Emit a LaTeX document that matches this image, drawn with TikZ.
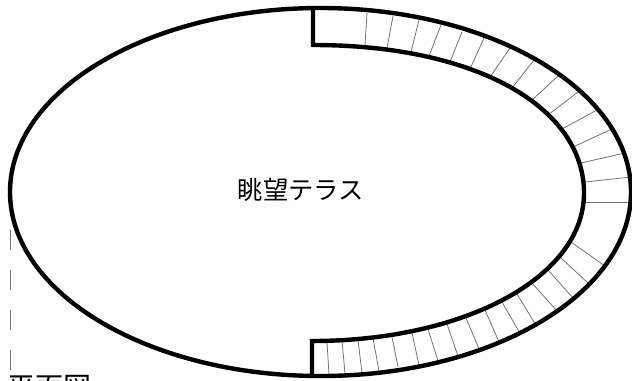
\documentclass[tikz,border=0pt]{standalone}
\usepackage{fontspec}
\newfontfamily\cjk{Noto Sans CJK JP}
\tikzstyle{wall} = [line width=3.3pt, line join=miter]
\tikzstyle{tread} = [line width=.6pt, black!55]
\tikzstyle{label} = [inner sep=0pt, font=\cjk]

\begin{document}
\begin{tikzpicture}[x=.75pt, y=-.75pt]
      \useasboundingbox (0,0) rectangle (632,380);
      \node[label, font=\cjk\fontsize{19}{19}\selectfont] (terrace) at (301,190) {眺望テラス};
      \node[label, font=\cjk\fontsize{21}{21}\selectfont, anchor=north west] (plan) at (7,375) {平面図};
      % stair treads
      \foreach \xa/\ya/\xb/\yb in {367/13/365/45, 393/16/387/48, 419/20/411/52, 441/25/429/56, 462/32/450/62,
        484/38/470/69, 510/48/490/77, 534/60/512/88, 558/76/531/101, 578/92/548/115, 597/110/562/129,
        612/129/573/147, 625/153/581/163, 631/177/585/182, 632/202/584/202, 605/266/571/242, 589/284/560/257,
        573/298/548/270, 557/311/532/283, 537/327/517/294, 521/335/502/302, 499/342/485/310, 479/349/466/318,
        458/356/447/324, 438/361/428/329, 419/365/412/333, 398/367/392/337, 379/371/373/338, 362/373/358/340,
        345/373/342/341, 329/374/327/342}
        \draw[tread] (\xa,\ya) -- (\xb,\yb);
      % dashed edge
      \draw[tread, dash pattern=on 15pt off 15pt] (10,230) -- (10,370);
      % outline
      \draw[wall] (320.5,192) ellipse [x radius=310.5, y radius=184];
      \draw[wall] (313,9) -- (313,45) .. controls (478,45) and (584,108) .. (584,193)
        .. controls (584,278) and (463,341) .. (312,341) -- (312,376);
    \end{tikzpicture}
\end{document}
